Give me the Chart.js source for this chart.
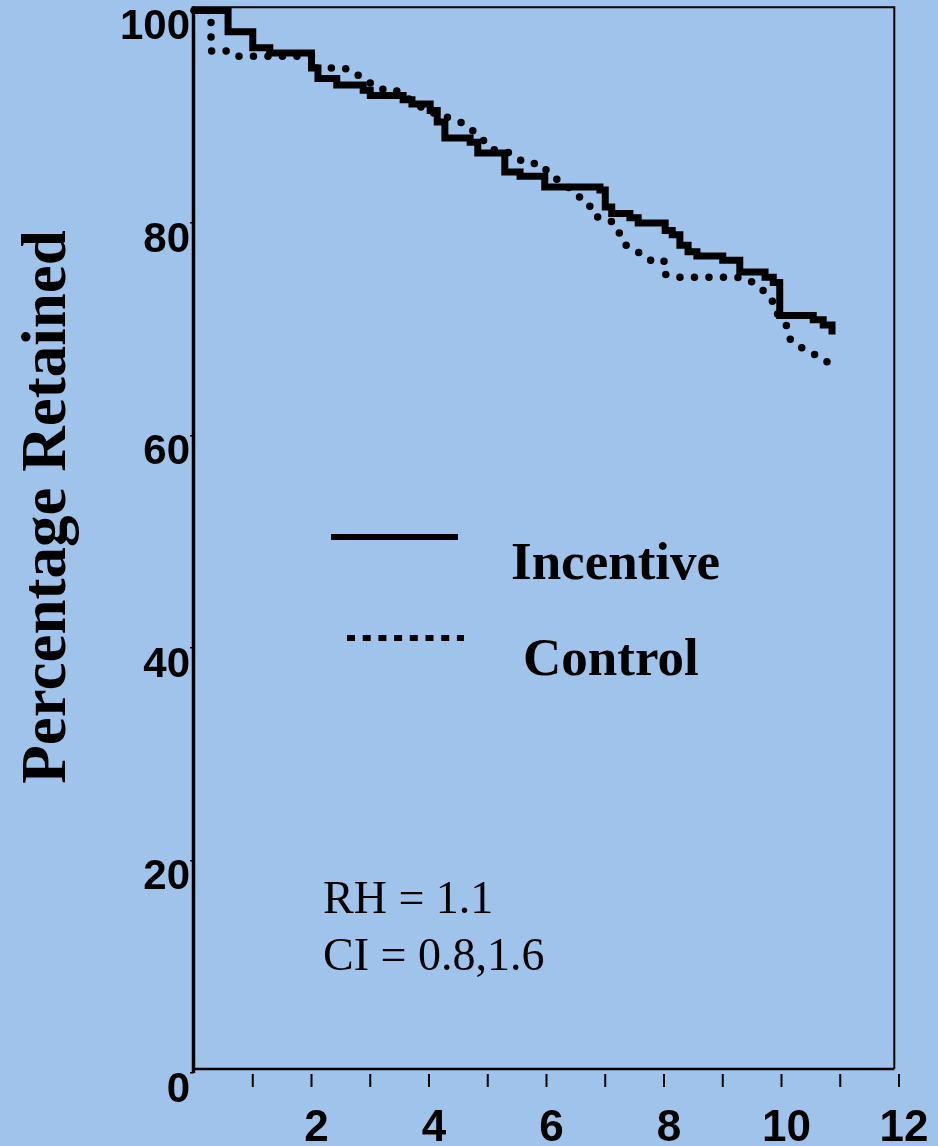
<!DOCTYPE html>
<html>
<head>
<meta charset="utf-8">
<script src="https://cdn.jsdelivr.net/npm/chart.js@4.4.1/dist/chart.umd.min.js"></script>
<style>
  html, body { margin: 0; padding: 0; background: #9fc3ea; }
</style>
</head>
<body>
<canvas id="kmChart" width="938" height="1146"></canvas>
<script>
// Incentive group: time (x) where each step drop happens, and % retained after it
const incentiveT = [0, 0.58, 1.0, 1.29, 2.0, 2.11, 2.43, 2.88, 3.0, 3.56, 3.71, 4.02, 4.14, 4.27, 4.70, 4.83,
    5.29, 5.55, 5.97, 6.91, 7.0, 7.11, 7.42, 7.56, 8.02, 8.14, 8.27, 8.41, 8.56, 9.0, 9.29, 9.72, 9.86,
    9.97, 10.54, 10.71, 10.86];
const incentivePct = [100, 98.0, 96.5, 96.0, 94.6, 93.6, 93.0, 92.5, 92.0, 91.6, 91.2, 90.6, 89.5, 88.0, 87.6, 86.6,
    84.8, 84.4, 83.4, 83.1, 81.5, 80.9, 80.5, 80.0, 79.3, 78.9, 77.9, 77.3, 76.9, 76.5, 75.4, 74.9, 74.4,
    71.3, 70.9, 70.4, 69.5];

// Control group: traced path of the dotted curve
const controlT = [0, 0.29, 0.29, 0.6, 0.73, 2.0, 2.05, 2.54, 2.72, 2.85, 2.99, 3.15, 3.41, 3.56, 3.71, 4.0,
    4.14, 4.58, 4.72, 4.85, 5.09, 5.33, 5.5, 5.65, 5.9, 6.01, 6.15, 6.28, 6.43, 6.57, 6.72, 6.78, 6.94,
    7.13, 7.23, 7.3, 7.45, 7.61, 7.75, 8.0, 8.0, 8.23, 9.22, 9.43, 9.57, 9.7, 9.84, 9.87, 9.99, 10.1,
    10.14, 10.28, 10.45, 10.6, 10.77, 10.84];
const controlPct = [100, 100, 96.2, 96.2, 95.7, 95.7, 94.6, 94.6, 94.3, 93.6, 93.2, 92.6, 92.6, 92.0, 91.5, 90.4,
    90.3, 89.4, 88.8, 88.2, 86.9, 86.7, 86.1, 85.6, 85.6, 84.9, 84.2, 83.8, 83.1, 82.4, 81.9, 80.8, 80.4,
    80.1, 79.2, 78.1, 77.6, 77.1, 76.5, 76.5, 75.2, 74.9, 74.9, 74.7, 74.2, 73.6, 72.8, 71.8, 71.1, 70.2,
    69.1, 68.4, 68.0, 67.5, 67.0, 66.1];

const xTicks = [0, 1, 2, 3, 4, 5, 6, 7, 8, 9, 10, 11, 12];
const yTickLabels = ['0', '20', '40', '60', '80', '100'];
const legendLabels = ['Incentive', 'Control'];
const statLines = ['RH = 1.1', 'CI = 0.8,1.6'];
const yTitle = 'Percentage Retained';

const bgColor = '#9fc3ea';

function toPoints(xs, ys) {
    return xs.map((x, i) => ({ x: x, y: ys[i] }));
}

const framePlugin = {
    id: 'framePlugin',
    beforeDraw(chart) {
        const ctx = chart.ctx;
        ctx.save();
        ctx.fillStyle = bgColor;
        ctx.fillRect(0, 0, chart.width, chart.height);
        ctx.restore();
    },
    afterDraw(chart) {
        const ctx = chart.ctx;
        const xs = chart.scales.x, ys = chart.scales.y;
        const left = xs.getPixelForValue(0) - 0.5;
        const right = xs.getPixelForValue(11.92);
        const top = ys.getPixelForValue(100.3);
        const bottom = ys.getPixelForValue(0.38);
        const zero = ys.getPixelForValue(0);

        ctx.save();
        ctx.strokeStyle = '#000';
        // frame
        ctx.lineWidth = 2;
        ctx.beginPath();
        ctx.moveTo(left, top); ctx.lineTo(right, top); ctx.lineTo(right, bottom);
        ctx.stroke();
        ctx.lineWidth = 2.5;
        ctx.beginPath();
        ctx.moveTo(left, bottom); ctx.lineTo(right, bottom);
        ctx.stroke();
        ctx.lineWidth = 3.5;
        ctx.beginPath();
        ctx.moveTo(left, top - 1); ctx.lineTo(left, zero);
        ctx.stroke();

        // x tick marks, detached below the axis
        ctx.lineWidth = 2;
        xTicks.forEach(t => {
            if (t === 0) return;
            const px = xs.getPixelForValue(t);
            ctx.beginPath();
            ctx.moveTo(px, zero + 1);
            ctx.lineTo(px, zero + 14);
            ctx.stroke();
        });

        // y axis title
        ctx.fillStyle = '#000';
        ctx.translate(65, 507);
        ctx.rotate(-Math.PI / 2);
        ctx.font = 'bold 63px "Liberation Serif"';
        ctx.textAlign = 'center';
        ctx.textBaseline = 'alphabetic';
        ctx.fillText(yTitle, 0, 0);
        ctx.restore();

        // legend inside the plot
        ctx.save();
        ctx.strokeStyle = '#000';
        ctx.lineWidth = 6;
        ctx.beginPath();
        ctx.moveTo(331, 537); ctx.lineTo(458, 537);
        ctx.stroke();
        ctx.setLineDash([8, 7.7]);
        ctx.beginPath();
        ctx.moveTo(347, 638); ctx.lineTo(464, 638);
        ctx.stroke();
        ctx.fillStyle = '#000';
        ctx.font = 'bold 53px "Liberation Serif"';
        ctx.textBaseline = 'alphabetic';
        ctx.fillText(legendLabels[0], 511, 579);
        ctx.fillText(legendLabels[1], 523, 675);

        ctx.font = '46px "Liberation Serif"';
        ctx.fillText(statLines[0], 323, 913);
        ctx.fillText(statLines[1], 323, 970);
        ctx.restore();
    }
};

new Chart(document.getElementById('kmChart'), {
    type: 'line',
    data: {
        datasets: [{
            label: legendLabels[0],
            data: toPoints(incentiveT, incentivePct),
            borderColor: '#000',
            borderWidth: 7,
            stepped: 'before',
            pointRadius: 0,
            tension: 0,
            clip: false
        }, {
            label: legendLabels[1],
            data: toPoints(controlT, controlPct),
            borderColor: '#000',
            borderWidth: 7.5,
            borderDash: [0, 14.5],
            borderCapStyle: 'round',
            pointRadius: 0,
            tension: 0,
            clip: false
        }]
    },
    options: {
        responsive: false,
        animation: false,
        layout: { padding: { left: 0, right: 39, top: 10.5, bottom: 0 } },
        plugins: {
            legend: { display: false },
            tooltip: { enabled: false }
        },
        scales: {
            x: {
                type: 'linear',
                min: 0,
                max: 12,
                afterBuildTicks: (scale) => {
                    scale.ticks = xTicks.map(v => ({ value: v }));
                },
                afterFit: (scale) => {
                    scale.height = 73;
                    scale.paddingLeft = 0;
                    scale.paddingRight = 0;
                },
                grid: { display: false, drawTicks: false },
                border: { display: false },
                ticks: {
                    autoSkip: false,
                    maxRotation: 0,
                    padding: 29,
                    labelOffset: 5,
                    color: '#000',
                    font: { family: '"Liberation Sans", Arial', weight: 'bold', size: 44 },
                    callback: (v) => (v > 0 && v % 2 === 0) ? String(v) : ''
                }
            },
            y: {
                min: 0,
                max: 100,
                afterBuildTicks: (scale) => {
                    scale.ticks = yTickLabels.map(v => ({ value: Number(v) }));
                },
                afterFit: (scale) => {
                    scale.width = 194;
                    scale.paddingTop = 0;
                    scale.paddingBottom = 0;
                },
                grid: {
                    drawOnChartArea: false,
                    drawTicks: true,
                    tickLength: 4,
                    color: '#000',
                    lineWidth: 1.5
                },
                border: { display: false },
                ticks: {
                    padding: 0,
                    labelOffset: 17,
                    color: '#000',
                    font: { family: '"Liberation Sans", Arial', weight: 'bold', size: 42 }
                }
            }
        }
    },
    plugins: [framePlugin]
});
</script>
</body>
</html>
